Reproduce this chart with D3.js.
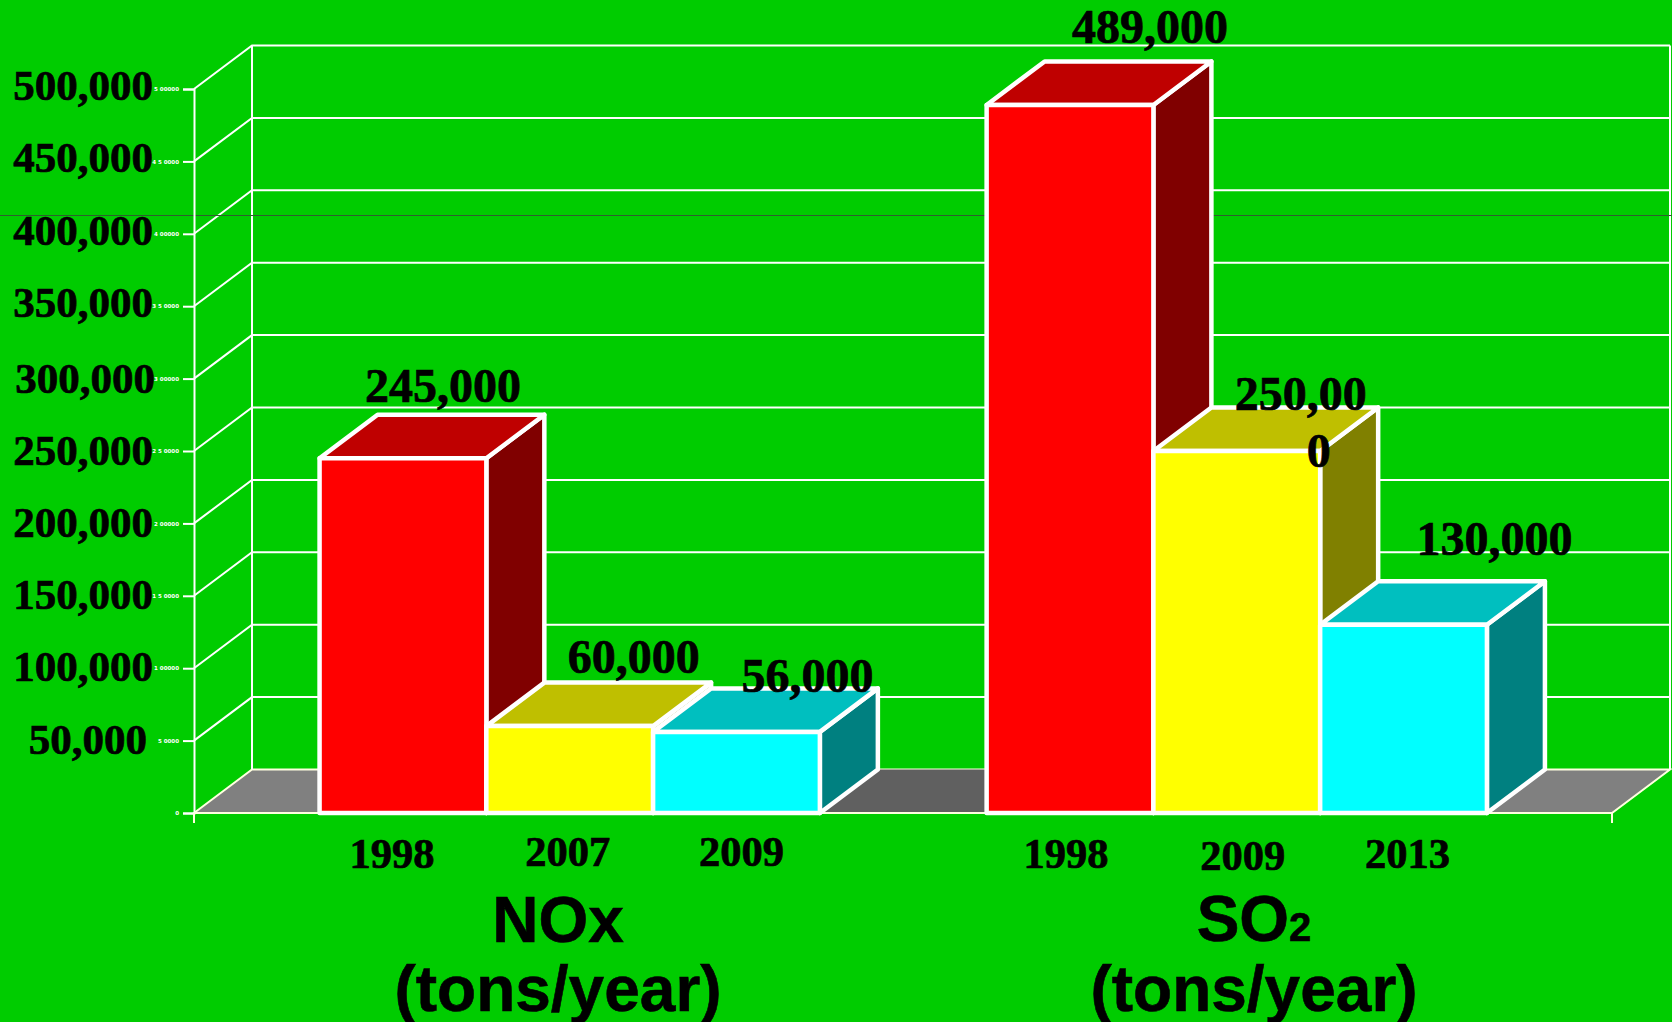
<!DOCTYPE html>
<html>
<head>
<meta charset="utf-8">
<script src="https://d3js.org/d3.v7.min.js"></script>
<style>
    html, body { margin: 0; padding: 0; background: #00cc00; overflow: hidden; }
    svg { display: block; }
    .serif { font-family: "Liberation Serif", serif; font-weight: bold; fill: #000; stroke: #000; stroke-width: 0.7px; }
    .sans { font-family: "Liberation Sans", sans-serif; font-weight: bold; fill: #000; stroke: #000; stroke-width: 0.6px; }
</style>
</head>
<body>
<script>
//Data
var categories = ["NOx 1998", "NOx 2007", "NOx 2009", "gap", "SO2 1998", "SO2 2009", "SO2 2013"];
var yearLabels = ["1998", "2007", "2009", "", "1998", "2009", "2013"];
var amounts = [245000, 60000, 56000, null, 489000, 250000, 130000];
var amountLabels = ["245,000", "60,000", "56,000", "", "489,000", "250,00", "130,000"];
var tickValues = [0, 50000, 100000, 150000, 200000, 250000, 300000, 350000, 400000, 450000, 500000];
var smallTickLabels = ["0", "5 0000", "1 00000", "1 5 0000", "2 00000", "2 5 0000", "3 00000", "3 5 0000", "4 00000", "4 5 0000", "5 00000"];
var bigTickLabels = ["", "50,000", "100,000", "150,000", "200,000", "250,000", "300,000", "350,000", "400,000", "450,000", "500,000"];

//Width and height
var w = 1672;
var h = 1022;

//Depth of the fake 3D box
var depthX = 58;
var depthY = -43.5;

//Hand placed nudges, the labels in the original sit a bit off
var bigTickNudge = [0, 13, 13, 13, 14, 14, 14, 11, 11, 11, 11];
var bigTickRight = [0, 147, 153, 153, 153, 153, 155, 153, 153, 153, 153];
var amountDx = [40, 64, 71, 0, 80, 64, 91];
var amountDy = [-56, -53, -40, 0, -62, -41, -70];
var yearDx = [-11, -2, 5, 0, -4, 6, 4];
var yearY = [868, 866, 866, 0, 868, 870, 868];

//Colours per bar: front, top, side
var frontColors = ["#ff0000", "#ffff00", "#00ffff", "none", "#ff0000", "#ffff00", "#00ffff"];
var topColors = ["#bf0000", "#bfbf00", "#00bfbf", "none", "#bf0000", "#bfbf00", "#00bfbf"];
var sideColors = ["#800000", "#808000", "#008080", "none", "#800000", "#808000", "#008080"];

var xScale = d3.scaleBand()
    .domain(categories)
    .range([194.5, 1612])
    .paddingInner(0)
    .paddingOuter(0.75);

var yScale = d3.scaleLinear()
    .domain([0, 500000])
    .range([813, 89]);

var barW = xScale.bandwidth();
var floorY = yScale(0);

var svg = d3.select("body")
    .append("svg")
    .attr("width", w)
    .attr("height", h);

svg.append("rect")
    .attr("width", w)
    .attr("height", h)
    .attr("fill", "#00cc00");

//Makes a closed path from [x, y] points
var shape = function(points) {
    return "M" + points.join("L") + "Z";
};

//Floor, the part between the two groups is darker
svg.append("path")
    .attr("d", shape([[194, floorY], [194 + depthX, floorY + depthY], [1612 + depthX, floorY + depthY], [1612, floorY]]))
    .attr("fill", "#808080")
    .attr("stroke", "#ffffe0")
    .attr("stroke-width", 2);

var gapLeft = xScale("gap");
svg.append("path")
    .attr("d", shape([[gapLeft, floorY], [gapLeft + depthX, floorY + depthY], [gapLeft + barW, floorY + depthY], [gapLeft + barW, floorY]]))
    .attr("fill", "#606060");

//Grid lines on side wall and back wall
var grid = svg.append("g")
    .attr("fill", "none")
    .attr("stroke", "#fff")
    .attr("stroke-width", 2);

grid.selectAll("path")
    .data(tickValues.slice(1))
    .enter()
    .append("path")
    .attr("d", function(d) {
	var y = yScale(d);
	return "M194," + y + "L" + (194 + depthX) + "," + (y + depthY) + "L" + (1612 + depthX) + "," + (y + depthY);
    });

grid.append("line")
    .attr("x1", 194 + depthX)
    .attr("x2", 194 + depthX)
    .attr("y1", yScale(500000) + depthY)
    .attr("y2", floorY + depthY);

grid.append("line")
    .attr("x1", 1612 + depthX)
    .attr("x2", 1612 + depthX)
    .attr("y1", yScale(500000) + depthY)
    .attr("y2", floorY + depthY);

//Stray dark rule across the whole picture
svg.append("line")
    .attr("x1", 0)
    .attr("x2", w)
    .attr("y1", 215.5)
    .attr("y2", 215.5)
    .attr("stroke", "#2f5f2f")
    .attr("stroke-width", 1);

//Y axis with the tiny labels
var yAxis = d3.axisLeft()
    .scale(yScale)
    .tickValues(tickValues)
    .tickSize(11)
    .tickPadding(4)
    .tickFormat(function(d, i) { return smallTickLabels[i]; });

var axisG = svg.append("g")
    .attr("class", "axis")
    .attr("transform", "translate(194,0)")
    .call(yAxis);

axisG.selectAll("path, line")
    .attr("stroke", "#fff")
    .attr("stroke-width", 2);

axisG.selectAll("text")
    .attr("fill", "#fff")
    .style("font-family", "'DejaVu Sans', sans-serif")
    .style("font-weight", "bold")
    .style("font-size", "5.5px");

//Front edge and its end ticks
svg.append("path")
    .attr("d", "M194," + floorY + "H1612M194," + floorY + "V" + (floorY + 10) + "M1612," + floorY + "V" + (floorY + 10))
    .attr("fill", "none")
    .attr("stroke", "#ffffe0")
    .attr("stroke-width", 2);

//Bars, left to right so the later ones cover the earlier sides
var bars = svg.selectAll("g.bar")
    .data(categories.map(function(c, i) { return { cat: c, amount: amounts[i], i: i }; })
	.filter(function(d) { return d.amount !== null; }))
    .enter()
    .append("g")
    .attr("class", "bar")
    .attr("stroke", "#fff")
    .attr("stroke-width", 4.5)
    .attr("stroke-linejoin", "round");

bars.append("path")
    .attr("d", function(d) {
	var x0 = xScale(d.cat), x1 = x0 + barW, y = yScale(d.amount);
	return shape([[x1, y], [x1 + depthX, y + depthY], [x1 + depthX, floorY + depthY], [x1, floorY]]);
    })
    .attr("fill", function(d) { return sideColors[d.i]; });

bars.append("path")
    .attr("d", function(d) {
	var x0 = xScale(d.cat), x1 = x0 + barW, y = yScale(d.amount);
	return shape([[x0, y], [x0 + depthX, y + depthY], [x1 + depthX, y + depthY], [x1, y]]);
    })
    .attr("fill", function(d) { return topColors[d.i]; });

bars.append("rect")
    .attr("x", function(d) { return xScale(d.cat); })
    .attr("y", function(d) { return yScale(d.amount); })
    .attr("width", barW)
    .attr("height", function(d) { return floorY - yScale(d.amount); })
    .attr("fill", function(d) { return frontColors[d.i]; });

//Big tick labels
svg.selectAll("text.bigTick")
    .data(tickValues.slice(1))
    .enter()
    .append("text")
    .attr("class", "bigTick serif")
    .attr("x", function(d, i) { return bigTickRight[i + 1]; })
    .attr("y", function(d, i) { return yScale(d) + bigTickNudge[i + 1]; })
    .attr("text-anchor", "end")
    .style("font-size", "43px")
    .text(function(d, i) { return bigTickLabels[i + 1]; });

//Value labels
svg.selectAll("text.amount")
    .data(bars.data())
    .enter()
    .append("text")
    .attr("class", "amount serif")
    .attr("x", function(d) { return xScale(d.cat) + barW / 2 + amountDx[d.i]; })
    .attr("y", function(d) { return yScale(d.amount) + amountDy[d.i]; })
    .attr("text-anchor", "middle")
    .style("font-size", "48px")
    .text(function(d) { return amountLabels[d.i]; });

//The 250,000 label wraps in the original, last digit drops to a new line
svg.append("text")
    .attr("class", "serif")
    .attr("x", xScale("SO2 2009") + barW / 2 + 82)
    .attr("y", yScale(250000) + 16)
    .attr("text-anchor", "middle")
    .style("font-size", "48px")
    .text("0");

//Year labels
svg.selectAll("text.year")
    .data(bars.data())
    .enter()
    .append("text")
    .attr("class", "year serif")
    .attr("x", function(d) { return xScale(d.cat) + barW / 2 + yearDx[d.i]; })
    .attr("y", function(d) { return yearY[d.i]; })
    .attr("text-anchor", "middle")
    .style("font-size", "42.5px")
    .text(function(d) { return yearLabels[d.i]; });

//Group titles
var nox = svg.append("text")
    .attr("class", "sans")
    .attr("text-anchor", "middle")
    .style("font-size", "64px");
nox.append("tspan").attr("x", 558).attr("y", 942).text("NOx");
nox.append("tspan").attr("x", 558).attr("y", 1011).text("(tons/year)");

var so2 = svg.append("text")
    .attr("class", "sans")
    .attr("text-anchor", "middle")
    .style("font-size", "64px");
so2.append("tspan").attr("x", 1254).attr("y", 941).text("SO").append("tspan").style("font-size", "40px").text("2");
so2.append("tspan").attr("x", 1254).attr("y", 1011).text("(tons/year)");
</script>
</body>
</html>
